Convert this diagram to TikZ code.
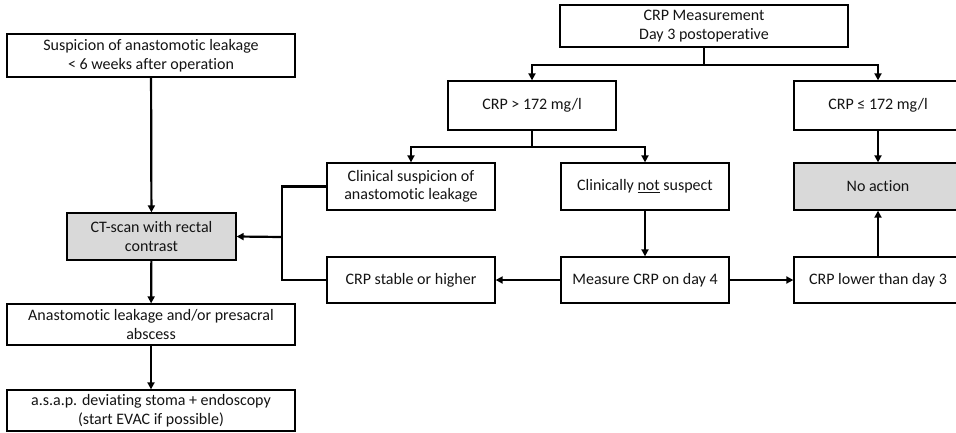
\documentclass[tikz,border=0pt]{standalone}
\usepackage{fontspec}
\setmainfont{Carlito}[Ligatures={NoCommon,NoRare,NoContextual}]
\usetikzlibrary{arrows.meta}
\definecolor{boxgray}{RGB}{217,217,217}
\definecolor{txt}{RGB}{20,20,20}
\tikzset{
  box/.style={draw=black, line width=1.3pt, fill=white, align=center, text=txt,
    font=\fontsize{16}{18.5}\selectfont, inner sep=0pt},
  graybox/.style={box, fill=boxgray},
  conn/.style={line width=2.2pt, draw=black},
  arr/.style={conn, -{Triangle[length=7pt,width=7pt]}}
}
\begin{document}
\begin{tikzpicture}[x=1pt,y=-1pt]
\useasboundingbox (0,0) rectangle (956,432);
% left column
\node[box, minimum width=288pt, minimum height=43pt] (susp) at (151,55.5) {Suspicion of anastomotic leakage\\ < 6 weeks after operation};
\node[graybox, minimum width=169pt, minimum height=47pt] (ct) at (151.5,236.5) {CT-scan with rectal\\ contrast};
\node[box, minimum width=288pt, minimum height=41pt] (anast) at (151,324.5) {Anastomotic leakage and/or presacral\\ abscess};
\node[box, minimum width=288pt, minimum height=41pt] (final) at (151,410.5) {a.s.a.p. deviating stoma + endoscopy\\ (start EVAC if possible)};
% right part
\node[box, minimum width=288pt, minimum height=42pt] (meas) at (704,26) {CRP Measurement\\ Day 3 postoperative};
\node[box, minimum width=168pt, minimum height=49pt] (high) at (532,105.5) {CRP > 172 mg/l};
\node[box, minimum width=168pt, minimum height=49pt] (low) at (878,105.5) {CRP ≤ 172 mg/l};
\node[box, minimum width=168pt, minimum height=47pt] (clin) at (411,186.5) {Clinical suspicion of\\ anastomotic leakage};
\node[box, minimum width=168pt, minimum height=47pt] (notsus) at (645,186.5) {Clinically \underline{not} suspect};
\node[graybox, minimum width=168pt, minimum height=47pt] (noact) at (878,186.5) {No action};
\node[box, minimum width=168pt, minimum height=46pt] (stable) at (411,280) {CRP stable or higher};
\node[box, minimum width=168pt, minimum height=46pt] (day4) at (645,280) {Measure CRP on day 4};
\node[box, minimum width=168pt, minimum height=46pt] (lower) at (878,280) {CRP lower than day 3};
% junctions
\coordinate (j1) at (704,65);
\coordinate (j2) at (532,147);
\coordinate (jb) at (282,237);
% connectors
\draw[arr] (susp) -- (ct);
\draw[arr] (ct) -- (anast);
\draw[arr] (anast) -- (final);
\draw[conn] (meas.south) -- (j1);
\draw[arr] (j1) -| (high.north);
\draw[arr] (j1) -| (low.north);
\draw[conn] (high.south) -- (j2);
\draw[arr] (j2) -| (clin.north);
\draw[arr] (j2) -| (notsus.north);
\draw[conn] (clin.west) -| (jb |- stable.west) -- (stable.west);
\draw[arr] (jb) -- (ct.east);
\draw[arr] (notsus) -- (day4);
\draw[arr] (day4) -- (stable);
\draw[arr] (day4) -- (lower);
\draw[arr] (lower) -- (noact);
\draw[arr] (low) -- (noact);
\end{tikzpicture}
\end{document}
